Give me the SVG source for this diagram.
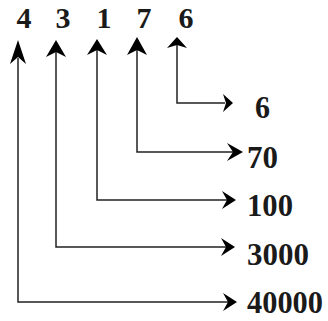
<svg xmlns="http://www.w3.org/2000/svg" width="328" height="321" viewBox="0 0 328 321">
<style>
text{font-family:'Liberation Serif','Times New Roman',Times,serif;font-weight:700;fill:#1a1a1a;}
.top{font-size:30px;text-anchor:middle;}
.lbl{font-size:31px;}
.ln{fill:none;stroke:#222;stroke-width:1.5;}
.ah{fill:#000;stroke:none;}
</style>
<rect width="328" height="321" fill="#fff"/>
<g id="digits">
<text class="top" x="24" y="28">4</text>
<text class="top" x="63" y="28">3</text>
<text class="top" x="104" y="28">1</text>
<text class="top" x="144" y="28">7</text>
<text class="top" x="186" y="28">6</text>
</g>
<g id="labels">
<text id="l6" class="lbl" x="255" y="118" textLength="15" lengthAdjust="spacingAndGlyphs">6</text>
<text id="l70" class="lbl" x="247" y="168" textLength="31" lengthAdjust="spacingAndGlyphs">70</text>
<text id="l100" class="lbl" x="247" y="216" textLength="46" lengthAdjust="spacingAndGlyphs">100</text>
<text id="l3000" class="lbl" x="247" y="265" textLength="62" lengthAdjust="spacingAndGlyphs">3000</text>
<text id="l40000" class="lbl" x="247" y="313" textLength="76" lengthAdjust="spacingAndGlyphs">40000</text>
</g>
<g id="connectors">
<path class="ln" d="M18,58 V302 H228"/>
<path class="ln" d="M56,52 V247 H226"/>
<path class="ln" d="M97,50 V200 H227"/>
<path class="ln" d="M137,50 V152 H234"/>
<path class="ln" d="M177,44 V103 H225"/>
<path class="ah" d="M18,40 L26,64 L18,57 L10,64 Z"/>
<path class="ah" d="M56,40 L66,57 L56,52 L46,57 Z"/>
<path class="ah" d="M97,39 L107,55 L97,50 L87,55 Z"/>
<path class="ah" d="M137,37 L147,55 L137,50 L127,55 Z"/>
<path class="ah" d="M177,37 L187,48 L177,45 L167,48 Z"/>
<path class="ah" d="M233,103 L223,112 L226,103 L223,94 Z"/>
<path class="ah" d="M243,152 L227,161 L233,152 L227,143 Z"/>
<path class="ah" d="M236,200 L222,209 L227,200 L222,191 Z"/>
<path class="ah" d="M235,247 L221,256 L226,247 L221,238 Z"/>
<path class="ah" d="M237,302 L223,311 L228,302 L223,293 Z"/>
</g>
</svg>
